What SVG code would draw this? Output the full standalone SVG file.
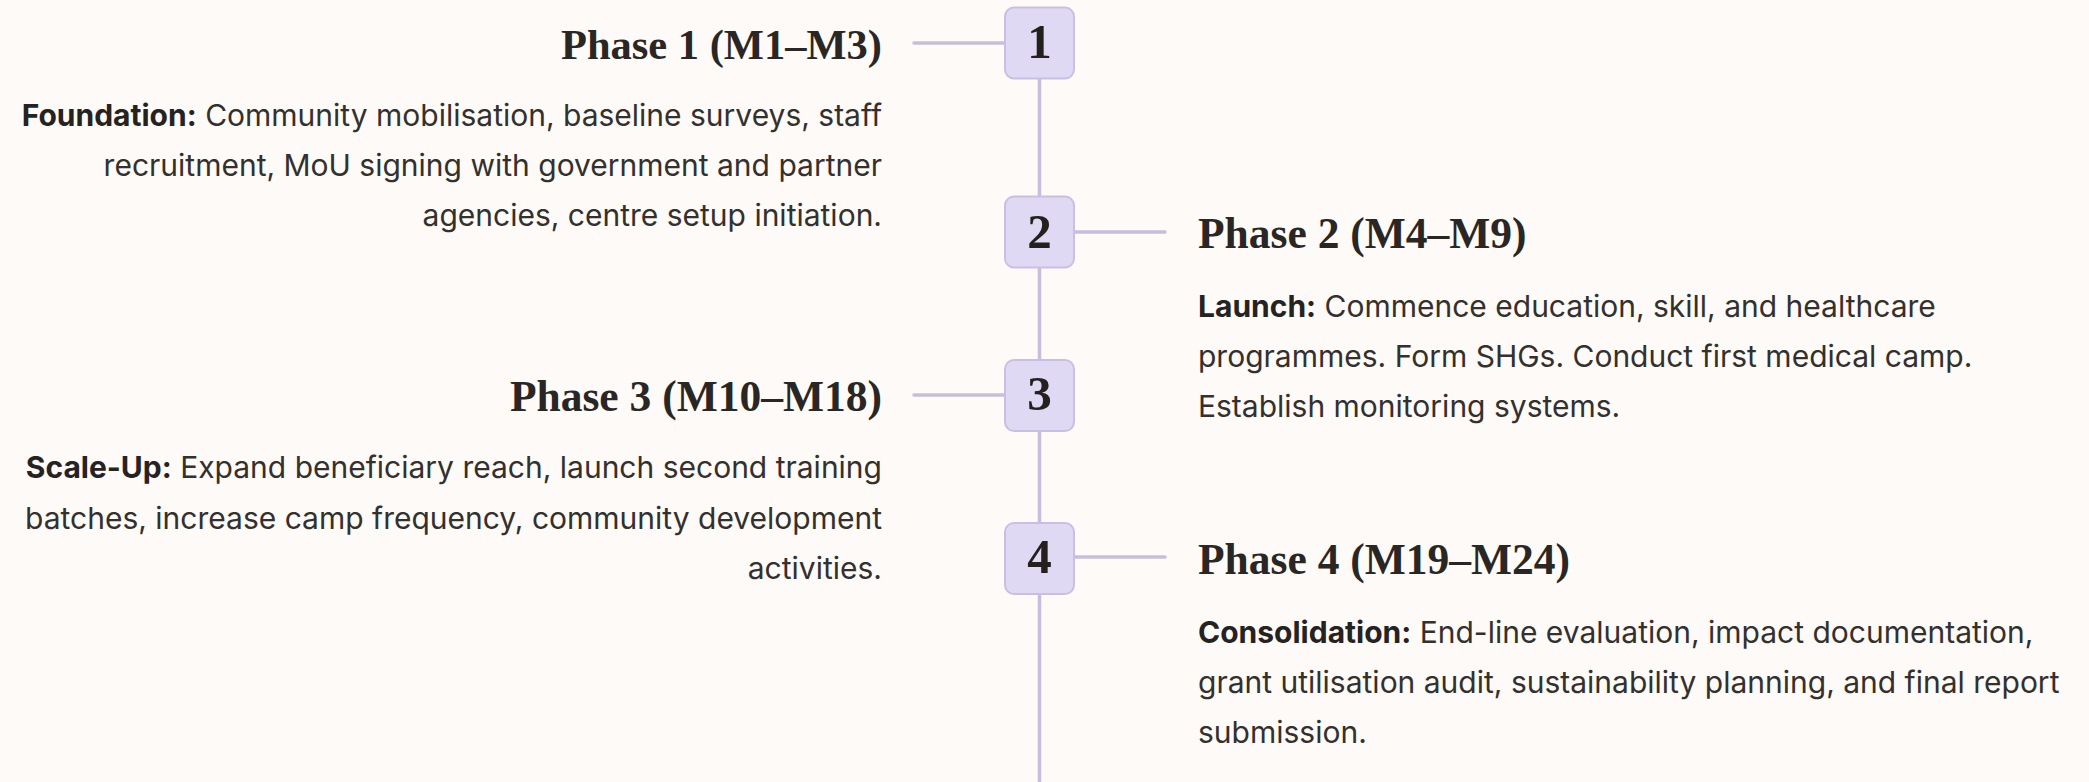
<svg xmlns="http://www.w3.org/2000/svg" width="2089" height="782" viewBox="0 0 2089 782">
<style>
.bg{fill:#fdfaf7}
.ln{stroke:#c6bedd;stroke-width:3.5;stroke-linecap:round;fill:none}
.box{fill:#e0d9f4;stroke:#c9bfe2;stroke-width:2}
.num{font-family:"Liberation Serif","DejaVu Serif",serif;font-weight:bold;font-size:49px;fill:#24201e;text-anchor:middle}
.hd{font-family:"Liberation Serif","DejaVu Serif",serif;font-weight:bold;font-size:43.5px;fill:#2a2623}
.bd{font-family:Inter,"Liberation Sans",sans-serif;font-size:30px;fill:#33302e}
.b{font-weight:bold;fill:#26221f}
.r{text-anchor:end}
</style>
<rect class="bg" x="0" y="0" width="2089" height="782"/>
<g id="connectors">
<line class="ln" x1="1039.5" y1="78" x2="1039.5" y2="790"/>
<line class="ln" x1="914" y1="43" x2="1006" y2="43"/>
<line class="ln" x1="1073" y1="232" x2="1165" y2="232"/>
<line class="ln" x1="914" y1="395" x2="1006" y2="395"/>
<line class="ln" x1="1073" y1="557" x2="1165" y2="557"/>
</g>
<g id="phase1">
<rect class="box" x="1005" y="7.5" width="69" height="71" rx="9"/>
<text class="num" x="1039.5" y="58">1</text>
<text class="hd r" x="882" y="59" style="font-size:42.5px">Phase 1 (M1–M3)</text>
<text class="bd r" x="882" y="126"><tspan class="b">Foundation:</tspan> Community mobilisation, baseline surveys, staff</text>
<text class="bd r" x="882" y="176">recruitment, MoU signing with government and partner</text>
<text class="bd r" x="882" y="226">agencies, centre setup initiation.</text>
</g>
<g id="phase2">
<rect class="box" x="1005" y="196.5" width="69" height="71" rx="9"/>
<text class="num" x="1039.5" y="248">2</text>
<text class="hd" x="1198" y="248">Phase 2 (M4–M9)</text>
<text class="bd" x="1198" y="317"><tspan class="b">Launch:</tspan> Commence education, skill, and healthcare</text>
<text class="bd" x="1198" y="367">programmes. Form SHGs. Conduct first medical camp.</text>
<text class="bd" x="1198" y="417">Establish monitoring systems.</text>
</g>
<g id="phase3">
<rect class="box" x="1005" y="360" width="69" height="71" rx="9"/>
<text class="num" x="1039.5" y="410">3</text>
<text class="hd r" x="882" y="411">Phase 3 (M10–M18)</text>
<text class="bd r" x="882" y="478"><tspan class="b">Scale-Up:</tspan> Expand beneficiary reach, launch second training</text>
<text class="bd r" x="882" y="529">batches, increase camp frequency, community development</text>
<text class="bd r" x="882" y="579">activities.</text>
</g>
<g id="phase4">
<rect class="box" x="1005" y="523" width="69" height="71" rx="9"/>
<text class="num" x="1039.5" y="573">4</text>
<text class="hd" x="1198" y="574">Phase 4 (M19–M24)</text>
<text class="bd" x="1198" y="643"><tspan class="b">Consolidation:</tspan> End-line evaluation, impact documentation,</text>
<text class="bd" x="1198" y="693">grant utilisation audit, sustainability planning, and final report</text>
<text class="bd" x="1198" y="743">submission.</text>
</g>
</svg>
